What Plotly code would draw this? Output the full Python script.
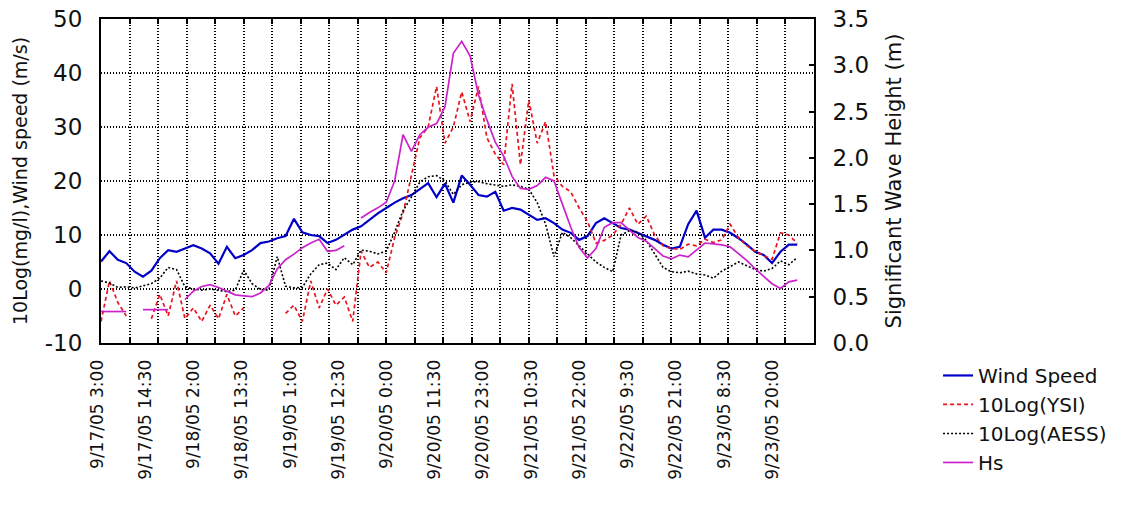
import pandas as pd
import plotly.graph_objects as go

# two-hourly samples starting 9/17/05 03:00
times = pd.date_range("2005-09-17 03:00", periods=84, freq="2h")

wind_speed = [
    5.1, 7.0, 5.4, 4.8, 3.2, 2.3, 3.4, 5.7, 7.2, 6.9,
    7.5, 8.1, 7.5, 6.6, 4.7, 7.8, 5.7, 6.3, 7.2, 8.5,
    8.8, 9.4, 9.8, 13.0, 10.5, 10.0, 9.8, 8.5, 9.1, 10.0,
    11.0, 11.6, 12.8, 14.0, 15.0, 16.0, 16.8, 17.4, 18.5, 19.6,
    17.0, 19.5, 16.0, 21.0, 19.3, 17.4, 17.1, 18.0, 14.5, 15.0,
    14.7, 13.8, 12.8, 13.1, 12.2, 11.0, 10.4, 9.1, 9.8, 12.2,
    13.1, 12.2, 11.3, 11.0, 10.4, 9.8, 9.1, 8.2, 7.5, 7.8,
    12.0, 14.5, 9.5, 11.0, 11.0, 10.4, 9.4, 8.2, 6.9, 6.3,
    4.8, 6.9, 8.2, 8.2,
]

log_ysi = [
    -6.0, 1.5, -2.5, -5.0, None, None, -5.5, -1.0, -5.0, 1.5,
    -5.5, -3.5, -6.0, -3.0, -5.5, -1.0, -5.0, -3.5, None, None,
    None, None, -4.5, -3.0, -6.0, 1.5, -3.5, 0.0, -3.0, -1.5,
    -6.0, 7.0, 4.0, 5.0, 3.0, 9.5, 14.0, 21.0, 28.0, 30.0,
    37.5, 27.0, 30.0, 36.5, 31.0, 37.5, 28.0, 25.0, 23.0, 38.0,
    23.0, 35.0, 27.0, 31.0, 21.0, 19.0, 18.0, 15.0, 12.5, 8.5,
    9.0, 10.0, 12.0, 15.0, 12.0, 13.5, 10.0, 8.0, 7.5, 7.3,
    8.3, 8.0, 9.2, 8.6, 9.1, 12.0, 9.5, 8.0, 7.0, 6.2,
    5.5, 10.4, 10.0, 8.5,
]

log_aess = [
    1.5, 1.1, 0.3, 0.4, 0.2, 0.6, 1.0, 2.0, 4.0, 3.6,
    0.4, 0.0, -0.2, 0.0, -0.3, -0.5, -0.2, 3.5, 1.0, -0.1,
    -0.2, 6.0, 0.5, 0.2, 0.3, 2.8, 4.5, 4.8, 3.6, 5.8,
    4.5, 7.2, 7.0, 6.5, 7.0, 10.5, 14.5, 17.0, 19.8, 20.8,
    21.0, 20.0, 17.5, 19.3, 19.8, 19.9, 19.5, 19.2, 19.0, 19.3,
    19.0, 18.5, 16.0, 12.0, 6.0, 10.5, 9.5, 8.0, 6.5, 5.0,
    4.0, 3.2, 10.0, 10.8, 10.5, 9.0, 6.5, 4.0, 3.2, 3.0,
    3.3, 2.8, 2.6, 2.0, 3.3, 4.2, 5.0, 4.3, 3.6, 3.3,
    3.8, 5.2, 4.5, 5.8,
]

hs = [
    0.34, 0.34, 0.34, 0.34, None, 0.36, 0.36, 0.36, 0.36, None,
    0.47, 0.56, 0.61, 0.63, 0.60, 0.56, 0.52, 0.51, 0.50, 0.54,
    0.62, 0.80, 0.90, 0.96, 1.03, 1.08, 1.12, 0.99, 1.00, 1.05,
    None, 1.35, 1.41, 1.46, 1.52, 1.75, 2.25, 2.07, 2.25, 2.33,
    2.37, 2.55, 3.13, 3.26, 3.10, 2.68, 2.41, 2.17, 2.02, 1.80,
    1.67, 1.66, 1.70, 1.79, 1.75, 1.50, 1.25, 1.03, 0.92, 1.02,
    1.25, 1.30, 1.30, 1.22, 1.14, 1.10, 1.02, 0.94, 0.91, 0.95,
    0.93, 1.00, 1.08, 1.07, 1.06, 1.04, 0.97, 0.89, 0.80, 0.72,
    0.64, 0.59, 0.66, 0.68,
]

# category labels every 11.5 hours
tick_times = pd.date_range("2005-09-17 03:00", periods=15, freq="690min")
tick_labels = [
    "9/17/05 3:00", "9/17/05 14:30", "9/18/05 2:00", "9/18/05 13:30",
    "9/19/05 1:00", "9/19/05 12:30", "9/20/05 0:00", "9/20/05 11:30",
    "9/20/05 23:00", "9/21/05 10:30", "9/21/05 22:00", "9/22/05 9:30",
    "9/22/05 21:00", "9/23/05 8:30", "9/23/05 20:00",
]

left_ticks = [-10, 0, 10, 20, 30, 40, 50]
left_tick_text = ["-10", "0", "10", "20", "30", "40", "50"]

FONT = "DejaVu Sans"
TEXT = "#111111"
GRID_DASH = "1px,2px"

fig = go.Figure()

fig.add_trace(go.Scatter(
    x=times, y=wind_speed, name="Wind Speed", mode="lines",
    line=dict(color="#0000c8", width=2.2),
))
fig.add_trace(go.Scatter(
    x=times, y=log_ysi, name="10Log(YSI)", mode="lines",
    line=dict(color="#e8141e", width=1.7, dash="4px,3px"),
))
fig.add_trace(go.Scatter(
    x=times, y=log_aess, name="10Log(AESS)", mode="lines",
    line=dict(color="#000000", width=1.6, dash="2px,2px"),
))
fig.add_trace(go.Scatter(
    x=times, y=hs, name="Hs", mode="lines", yaxis="y2",
    line=dict(color="#cc22cc", width=1.7),
))
# empty trace that carries the 25-division tick/grid axis
fig.add_trace(go.Scatter(
    x=[], y=[], xaxis="x2", yaxis="y", showlegend=False, hoverinfo="skip",
))

fig.update_layout(
    width=1142, height=514,
    margin=dict(l=101, r=328, t=19, b=171),
    paper_bgcolor="white", plot_bgcolor="white",
    font=dict(family=FONT, color=TEXT),
    showlegend=True,
    legend=dict(
        x=1.174, y=-0.04, xanchor="left", yanchor="top",
        font=dict(family=FONT, size=20, color=TEXT),
        bgcolor="rgba(0,0,0,0)", borderwidth=0,
        itemwidth=30, tracegroupgap=0,
    ),
    xaxis=dict(
        type="date",
        range=["2005-09-17 02:59", "2005-09-24 05:00"],
        tickmode="array", tickvals=tick_times, ticktext=tick_labels,
        tickangle=-90, ticks="", showgrid=False, zeroline=False,
        showline=True, linecolor="black", linewidth=2, mirror=True,
        tickfont=dict(family=FONT, size=17, color=TEXT),
        ticklabelstandoff=8, ticklabelshift=-4,
        automargin=False,
    ),
    xaxis2=dict(
        overlaying="x", anchor="y", side="bottom",
        range=[0, 25], tickmode="linear", tick0=0, dtick=1,
        showgrid=True, gridcolor="black", gridwidth=1.5, griddash=GRID_DASH,
        ticks="inside", ticklen=5, tickcolor="black", tickwidth=1.5,
        showline=True, linecolor="black", linewidth=2, mirror="ticks",
        showticklabels=False, zeroline=False, automargin=False,
    ),
    yaxis=dict(
        range=[-10, 50], tickmode="array", tickvals=left_ticks,
        ticktext=left_tick_text,
        showgrid=True, gridcolor="black", gridwidth=1.5, griddash=GRID_DASH,
        zeroline=False, ticks="",
        showline=True, linecolor="black", linewidth=2, mirror=True,
        tickfont=dict(family=FONT, size=23, color=TEXT),
        ticklabelstandoff=12,
        title=dict(text="10Log(mg/l),Wind speed (m/s)",
                   font=dict(family=FONT, size=19, color=TEXT),
                   standoff=12),
        automargin=False,
    ),
    yaxis2=dict(
        overlaying="y", side="right", anchor="x",
        range=[0, 3.5], tickmode="linear", tick0=0, dtick=0.5,
        tickformat=".1f", showgrid=False, zeroline=False,
        ticks="inside", ticklen=5, tickcolor="black", tickwidth=1.5,
        showline=True, linecolor="black", linewidth=2,
        tickfont=dict(family=FONT, size=23, color=TEXT),
        ticklabelstandoff=12,
        title=dict(text="Significant Wave Height (m)",
                   font=dict(family=FONT, size=21, color=TEXT),
                   standoff=18),
        automargin=False,
    ),
)

fig.write_html("out.html")
